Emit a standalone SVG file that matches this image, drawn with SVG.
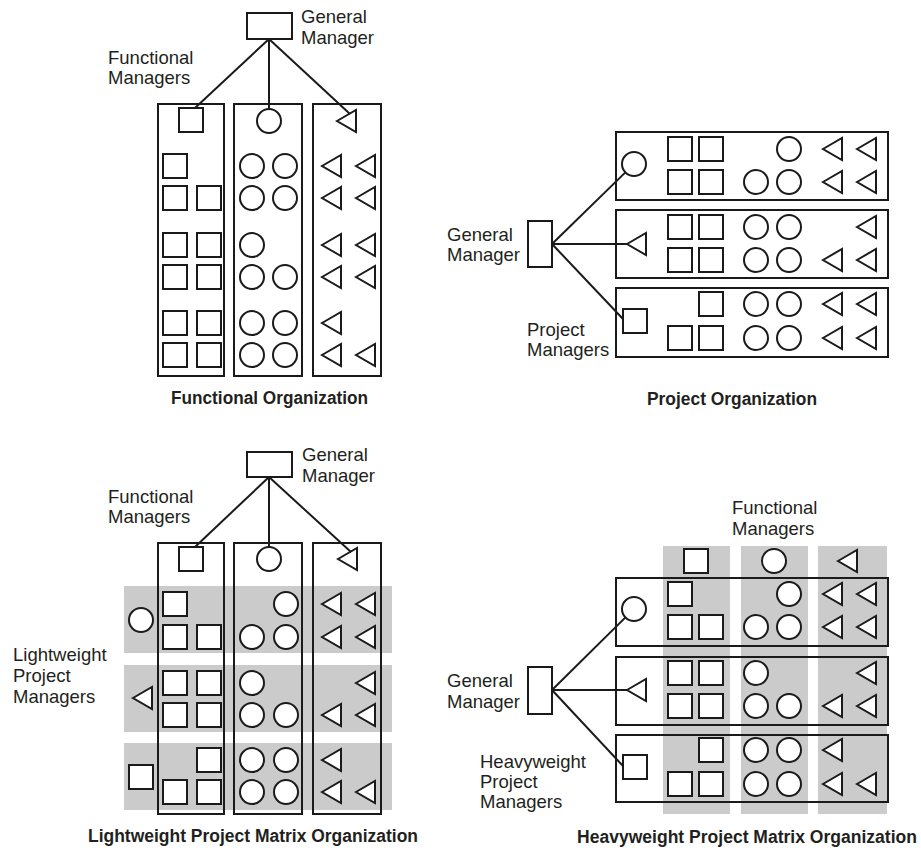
<svg xmlns="http://www.w3.org/2000/svg" xmlns:xlink="http://www.w3.org/1999/xlink" width="921" height="850" viewBox="0 0 921 850">
<style>
.s{fill:#fff;stroke:#1a1a1a;stroke-width:2}
.box{fill:none;stroke:#1a1a1a;stroke-width:2}
.gm{fill:#fff;stroke:#1a1a1a;stroke-width:2}
.band{fill:#cbcbcb;stroke:none}
.ln{stroke:#1a1a1a;stroke-width:2;fill:none}
.lb{font-family:"Liberation Sans",Arial,sans-serif;font-size:18.5px;fill:#231f20}
.tt{font-family:"Liberation Sans",Arial,sans-serif;font-size:17.5px;font-weight:bold;fill:#231f20}
</style>
<defs>
<rect id="sq" class="s" x="-12" y="-12" width="24" height="24"/>
<circle id="ci" class="s" r="12"/>
<path id="tr" class="s" d="M0,0 L19,-11 L19,11 Z"/>
</defs>
<rect width="921" height="850" fill="#fff"/>

<!-- ===== Functional Organization ===== -->
<g id="fo">
<g id="fo-gm"><rect class="gm" x="247" y="13" width="45" height="26"/>
<text class="lb" x="301" y="23">General</text><text class="lb" x="301" y="44">Manager</text></g>
<text class="lb" x="108" y="64">Functional</text><text class="lb" x="108" y="84">Managers</text>
<g id="fo-col1"><rect class="box" x="158" y="104" width="66" height="272"/>
<use href="#sq" x="191" y="120"/>
<use href="#sq" x="175" y="166"/>
<use href="#sq" x="175" y="198"/><use href="#sq" x="209" y="198"/>
<use href="#sq" x="175" y="245"/><use href="#sq" x="209" y="245"/>
<use href="#sq" x="175" y="277"/><use href="#sq" x="209" y="277"/>
<use href="#sq" x="175" y="323"/><use href="#sq" x="209" y="323"/>
<use href="#sq" x="175" y="355"/><use href="#sq" x="209" y="355"/></g>
<g id="fo-col2"><rect class="box" x="234" y="104" width="68" height="272"/>
<use href="#ci" x="269" y="121"/>
<use href="#ci" x="252" y="166"/><use href="#ci" x="285" y="166"/>
<use href="#ci" x="252" y="198"/><use href="#ci" x="285" y="198"/>
<use href="#ci" x="252" y="245"/>
<use href="#ci" x="252" y="277"/><use href="#ci" x="285" y="277"/>
<use href="#ci" x="252" y="323"/><use href="#ci" x="285" y="323"/>
<use href="#ci" x="252" y="355"/><use href="#ci" x="285" y="355"/></g>
<g id="fo-col3"><rect class="box" x="313" y="104" width="68" height="272"/>
<use href="#tr" x="337" y="121"/>
<use href="#tr" x="322" y="166"/><use href="#tr" x="356" y="166"/>
<use href="#tr" x="322" y="198"/><use href="#tr" x="356" y="198"/>
<use href="#tr" x="322" y="245"/><use href="#tr" x="356" y="245"/>
<use href="#tr" x="322" y="277"/><use href="#tr" x="356" y="277"/>
<use href="#tr" x="322" y="323"/>
<use href="#tr" x="322" y="355"/><use href="#tr" x="356" y="355"/></g>
<text class="tt" x="171" y="404" textLength="197" lengthAdjust="spacingAndGlyphs">Functional Organization</text>
</g>

<!-- ===== Project Organization ===== -->
<g id="po">
<g id="po-gm"><rect class="gm" x="528" y="221" width="24" height="46"/>
<text class="lb" x="447" y="241">General</text><text class="lb" x="447" y="261">Manager</text></g>
<text class="lb" x="527" y="336">Project</text><text class="lb" x="527" y="356">Managers</text>
<g id="po-p1"><rect class="box" x="616" y="132" width="272" height="68"/>
<use href="#ci" x="634" y="164"/>
<use href="#sq" x="680" y="149"/><use href="#sq" x="711" y="149"/><use href="#ci" x="789" y="149"/><use href="#tr" x="823" y="149"/><use href="#tr" x="857" y="149"/>
<use href="#sq" x="680" y="182"/><use href="#sq" x="711" y="182"/><use href="#ci" x="756" y="182"/><use href="#ci" x="789" y="182"/><use href="#tr" x="823" y="182"/><use href="#tr" x="857" y="182"/></g>
<g id="po-p2"><rect class="box" x="616" y="210" width="272" height="68"/>
<use href="#tr" x="627" y="244"/>
<use href="#sq" x="680" y="227"/><use href="#sq" x="711" y="227"/><use href="#ci" x="756" y="227"/><use href="#ci" x="789" y="227"/><use href="#tr" x="857" y="227"/>
<use href="#sq" x="680" y="260"/><use href="#sq" x="711" y="260"/><use href="#ci" x="756" y="260"/><use href="#ci" x="789" y="260"/><use href="#tr" x="823" y="260"/><use href="#tr" x="857" y="260"/></g>
<g id="po-p3"><rect class="box" x="616" y="288" width="272" height="69"/>
<use href="#sq" x="635" y="321"/>
<use href="#sq" x="711" y="304"/><use href="#ci" x="756" y="304"/><use href="#ci" x="789" y="304"/><use href="#tr" x="823" y="304"/><use href="#tr" x="857" y="304"/>
<use href="#sq" x="680" y="338"/><use href="#sq" x="711" y="338"/><use href="#ci" x="756" y="338"/><use href="#ci" x="789" y="338"/><use href="#tr" x="823" y="338"/><use href="#tr" x="857" y="338"/></g>
<text class="tt" x="647" y="405" textLength="170" lengthAdjust="spacingAndGlyphs">Project Organization</text>
</g>

<!-- ===== Lightweight Project Matrix Organization ===== -->
<g id="lw">
<g id="lw-bands">
<rect class="band" x="124" y="586" width="268" height="67"/>
<rect class="band" x="124" y="665" width="268" height="67"/>
<rect class="band" x="124" y="743" width="268" height="67"/></g>
<g id="lw-gm"><rect class="gm" x="247" y="452" width="45" height="25"/>
<text class="lb" x="302" y="461">General</text><text class="lb" x="302" y="482">Manager</text></g>
<text class="lb" x="108" y="503">Functional</text><text class="lb" x="108" y="523">Managers</text>
<text class="lb" x="13" y="661">Lightweight</text><text class="lb" x="13" y="682">Project</text><text class="lb" x="13" y="703">Managers</text>
<g id="lw-pm"><use href="#ci" x="141" y="620"/><use href="#tr" x="133" y="698"/><use href="#sq" x="141" y="777"/></g>
<g id="lw-col1"><rect class="box" x="158" y="543" width="66" height="271"/>
<use href="#sq" x="191" y="559"/>
<use href="#sq" x="175" y="604"/>
<use href="#sq" x="175" y="637"/><use href="#sq" x="209" y="637"/>
<use href="#sq" x="175" y="683"/><use href="#sq" x="209" y="683"/>
<use href="#sq" x="175" y="715"/><use href="#sq" x="209" y="715"/>
<use href="#sq" x="209" y="760"/>
<use href="#sq" x="175" y="792"/><use href="#sq" x="209" y="792"/></g>
<g id="lw-col2"><rect class="box" x="234" y="543" width="68" height="271"/>
<use href="#ci" x="269" y="559"/>
<use href="#ci" x="286" y="604"/>
<use href="#ci" x="252" y="637"/><use href="#ci" x="286" y="637"/>
<use href="#ci" x="252" y="683"/>
<use href="#ci" x="252" y="715"/><use href="#ci" x="286" y="715"/>
<use href="#ci" x="252" y="760"/><use href="#ci" x="286" y="760"/>
<use href="#ci" x="252" y="792"/><use href="#ci" x="286" y="792"/></g>
<g id="lw-col3"><rect class="box" x="313" y="543" width="68" height="271"/>
<use href="#tr" x="338" y="559"/>
<use href="#tr" x="322" y="604"/><use href="#tr" x="356" y="604"/>
<use href="#tr" x="322" y="637"/><use href="#tr" x="356" y="637"/>
<use href="#tr" x="356" y="683"/>
<use href="#tr" x="322" y="715"/><use href="#tr" x="356" y="715"/>
<use href="#tr" x="322" y="760"/>
<use href="#tr" x="322" y="792"/><use href="#tr" x="356" y="792"/></g>
<text class="tt" x="88" y="842" textLength="330" lengthAdjust="spacingAndGlyphs">Lightweight Project Matrix Organization</text>
</g>

<!-- ===== Heavyweight Project Matrix Organization ===== -->
<g id="hw">
<g id="hw-bands">
<rect class="band" x="663" y="546" width="67" height="268"/>
<rect class="band" x="741" y="546" width="67" height="268"/>
<rect class="band" x="818" y="546" width="69" height="268"/></g>
<g id="hw-gm"><rect class="gm" x="528" y="667" width="24" height="47"/>
<text class="lb" x="447" y="687">General</text><text class="lb" x="447" y="708">Manager</text></g>
<text class="lb" x="732" y="514">Functional</text><text class="lb" x="732" y="535">Managers</text>
<text class="lb" x="480" y="768">Heavyweight</text><text class="lb" x="480" y="788">Project</text><text class="lb" x="480" y="808">Managers</text>
<g id="hw-fm"><use href="#sq" x="696" y="561"/><use href="#ci" x="774" y="561"/><use href="#tr" x="838" y="561"/></g>
<g id="hw-p1"><rect class="box" x="616" y="578" width="272" height="68"/>
<use href="#ci" x="634" y="609"/>
<use href="#sq" x="680" y="594"/><use href="#ci" x="789" y="594"/><use href="#tr" x="823" y="594"/><use href="#tr" x="857" y="594"/>
<use href="#sq" x="680" y="627"/><use href="#sq" x="711" y="627"/><use href="#ci" x="756" y="627"/><use href="#ci" x="789" y="627"/><use href="#tr" x="823" y="627"/><use href="#tr" x="857" y="627"/></g>
<g id="hw-p2"><rect class="box" x="616" y="657" width="272" height="68"/>
<use href="#tr" x="627" y="690"/>
<use href="#sq" x="680" y="673"/><use href="#sq" x="711" y="673"/><use href="#ci" x="756" y="673"/><use href="#tr" x="857" y="673"/>
<use href="#sq" x="680" y="706"/><use href="#sq" x="711" y="706"/><use href="#ci" x="756" y="706"/><use href="#ci" x="789" y="706"/><use href="#tr" x="823" y="706"/><use href="#tr" x="857" y="706"/></g>
<g id="hw-p3"><rect class="box" x="616" y="735" width="272" height="67"/>
<use href="#sq" x="635" y="767"/>
<use href="#sq" x="711" y="750"/><use href="#ci" x="756" y="750"/><use href="#ci" x="789" y="750"/><use href="#tr" x="823" y="750"/>
<use href="#sq" x="680" y="784"/><use href="#sq" x="711" y="784"/><use href="#ci" x="756" y="784"/><use href="#ci" x="789" y="784"/><use href="#tr" x="823" y="784"/><use href="#tr" x="857" y="784"/></g>
<text class="tt" x="577" y="843" textLength="340" lengthAdjust="spacingAndGlyphs">Heavyweight Project Matrix Organization</text>
</g>

<!-- ===== Connectors ===== -->
<g id="connectors" class="ln">
<line x1="269" y1="39" x2="195" y2="108"/>
<line x1="269" y1="39" x2="269" y2="109"/>
<line x1="269" y1="39" x2="350" y2="114"/>
<line x1="552" y1="244" x2="625.4" y2="172.4"/>
<line x1="552" y1="244" x2="627" y2="244"/>
<line x1="552" y1="244" x2="623" y2="319"/>
<line x1="269" y1="477" x2="195" y2="547"/>
<line x1="269" y1="477" x2="269" y2="547"/>
<line x1="269" y1="477" x2="351" y2="552"/>
<line x1="552" y1="690" x2="625.5" y2="617.4"/>
<line x1="552" y1="690" x2="627" y2="690"/>
<line x1="552" y1="690" x2="623" y2="766"/>
</g>
</svg>
